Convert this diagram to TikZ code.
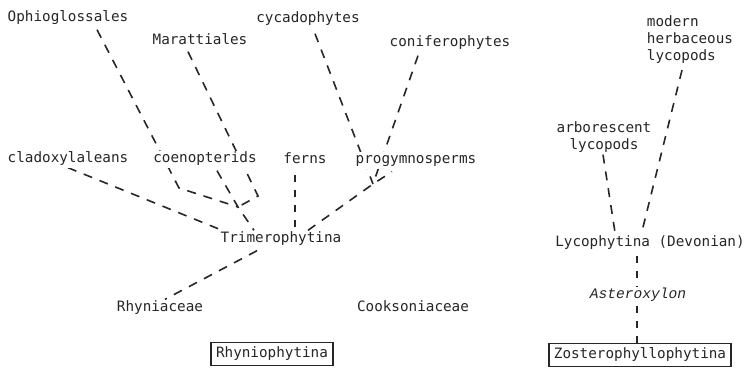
\documentclass[tikz,border=0pt]{standalone}
\usepackage{fontspec}
\setmonofont{DejaVu Sans Mono}
\newfontfamily\astfont{Liberation Mono}
\usetikzlibrary{positioning,backgrounds}
\definecolor{tinta}{HTML}{262626}

\begin{document}
\begin{tikzpicture}[x=1pt, y=-1pt,
      font=\ttfamily\fontsize{14.3}{17}\selectfont, text=tinta,
      taxon/.style={fill=white, inner sep=2pt, text height=10pt, text depth=3pt},
      multi/.style={fill=white, inner sep=2pt, align=#1},
      grupo/.style={draw=tinta, fill=white, line width=1.3pt, inner sep=5pt, text height=10pt, text depth=3pt},
      linea/.style={draw=tinta, line width=1.6pt, dash pattern=on 9pt off 8pt},
      corta/.style={linea, dash pattern=on 7pt off 8pt}]
    \useasboundingbox (0,0) rectangle (748,370);
    % upper row
    \node[taxon] (ophio) at (68,18) {Ophioglossales};
    \node[taxon] (maratt) at (200,41) {Marattiales};
    \node[taxon] (cycado) at (308,19) {cycadophytes};
    \node[taxon] (conif) at (450,43) {coniferophytes};
    % middle row
    \node[taxon] (clado) at (68,159) {cladoxylaleans};
    \node[taxon] (coeno) at (205,159) {coenopterids};
    \node[taxon] (ferns) at (305,160) {ferns};
    \node[taxon] (progym) at (416,160) {progymnosperms};
    \node[taxon] (trimer) at (281,239) {Trimerophytina};
    % lower row
    \node[taxon] (rhynia) at (160,308) {Rhyniaceae};
    \node[taxon] (cookso) at (413,308) {Cooksoniaceae};
    \node[grupo] (rhynbox) at (272,354) {Rhyniophytina};
    % lycopods
    \node[multi=left] (modern) at (690,40) {modern\\herbaceous\\lycopods};
    \node[multi=center] (arbor) at (604,137) {arborescent\\lycopods};
    \node[taxon] (lyco) at (650,243) {Lycophytina (Devonian)};
    \node[taxon, font=\astfont\itshape\fontsize{14.6}{17}\selectfont] (astero) at (638,295) {Asteroxylon};
    \node[grupo] (zostbox) at (640,355) {Zosterophyllophytina};
    % branch points
    \coordinate (jL) at (238,207);
    \coordinate (jR) at (373,184);
    \coordinate (bOph) at (179,188);
    \coordinate (bMar) at (258,196);
    % links
    \begin{scope}[on background layer]
      \draw[linea] ([xshift=29pt, yshift=-3pt]ophio.south) -- (bOph) -- (jL);
      \draw[linea] ([xshift=-12pt, yshift=-2pt]maratt.south) -- (bMar) -- (jL);
      \draw[linea] ([xshift=12pt, yshift=-3pt]coeno.south) -- (jL) -- ([xshift=-27pt]trimer.north);
      \draw[linea] (clado.south) -- ([xshift=-59pt]trimer.north);
      \draw[corta] ([xshift=-10pt, yshift=-6pt]ferns.south) -- ([xshift=14pt]trimer.north);
      \draw[linea] ([xshift=27pt]trimer.north) -- (jR) -- ([xshift=-24pt, yshift=-3pt]progym.south);
      \draw[linea] ([xshift=7pt, yshift=-6pt]cycado.south) -- (jR);
      \draw[linea] ([xshift=-32pt, yshift=-4pt]conif.south) -- (jR);
      \draw[linea] ([xshift=-24pt, yshift=-3pt]trimer.south) -- ([xshift=5pt]rhynia.north);
      \draw[linea] ([xshift=-1pt]arbor.south) -- ([xshift=-35pt, yshift=2pt]lyco.north);
      \draw[linea] ([xshift=-8pt, yshift=-4pt]modern.south) -- ([xshift=-8pt, yshift=3pt]lyco.north);
      \draw[corta] ([xshift=-13pt, yshift=-4pt]lyco.south) -- ([xshift=-1pt]astero.north);
      \draw[corta] ([xshift=-1pt, yshift=-2pt]astero.south) -- ([xshift=-3pt]zostbox.north);
    \end{scope}
\end{tikzpicture}
\end{document}
